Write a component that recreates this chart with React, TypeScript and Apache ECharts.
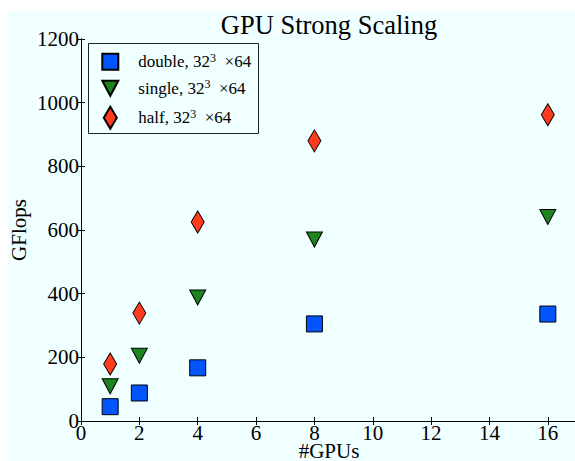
import { useEffect, useRef } from "react";
import * as echarts from "echarts";

const gpus = [1, 2, 4, 8, 16];
const doubleGflops = [45, 88, 167, 305, 336];
const singleGflops = [109, 205, 388, 570, 641];
const halfGflops = [179, 339, 625, 880, 962];
const seriesNames = ["double", "single", "half"];
const titleText = "GPU Strong Scaling";
const xName = "#GPUs";
const yName = "GFlops";

const FONT = "Liberation Serif";
const BG = "#f0ffff";

function legendFor(name: string, icon: string | null, w: number, h: number, left: number, top: number, pad: number) {
  return {
    data: [icon ? { name, icon } : name],
    left,
    top,
    padding: 0,
    itemWidth: w,
    itemHeight: h,
    selectedMode: false,
    formatter: (n: string) => `${n}, 32{sup|3}  ×64`,
    textStyle: {
      fontFamily: FONT,
      fontSize: 17,
      color: "#000",
      lineHeight: 20,
      padding: [0, 0, 0, pad],
      rich: {
        sup: { fontFamily: FONT, fontSize: 12, lineHeight: 6, verticalAlign: "top", color: "#000" },
      },
    },
  };
}

export default function App() {
  const ref = useRef<HTMLDivElement>(null);
  useEffect(() => {
    const chart = echarts.init(ref.current!, null, { renderer: "svg" });
    const axisCommon = {
      axisLine: { show: true, lineStyle: { color: "#000", width: 1 } },
      axisTick: { show: true, inside: true, length: 4, lineStyle: { color: "#000" } },
      splitLine: { show: false },
    };
    const option: any = {
      animation: false,
      backgroundColor: BG,
      title: {
        text: titleText,
        left: 321,
        top: 2,
        padding: 0,
        textAlign: "center",
        textStyle: { fontFamily: FONT, fontSize: 26.5, lineHeight: 24, fontWeight: "normal", color: "#000" },
      },
      grid: { left: 73, top: 28, width: 496, height: 382, containLabel: false, outerBoundsMode: "none" },
      xAxis: [
        {
          type: "value",
          min: 0,
          max: 17,
          interval: 2,
          position: "bottom",
          name: xName,
          nameLocation: "middle",
          nameGap: 21.5,
          nameMoveOverlap: false,
          nameTextStyle: { fontFamily: FONT, fontSize: 21, lineHeight: 16, color: "#000" },
          axisLabel: {
            fontFamily: FONT,
            fontSize: 21,
            lineHeight: 16,
            color: "#000",
            margin: 3.5,
            showMaxLabel: false,
            formatter: (v: number) => String(v),
          },
          ...axisCommon,
        },
        {
          type: "value",
          min: 0,
          max: 17,
          interval: 2,
          position: "top",
          axisLabel: { show: false },
          ...axisCommon,
        },
      ],
      yAxis: [
        {
          type: "value",
          min: 0,
          max: 1200,
          interval: 200,
          position: "left",
          name: yName,
          nameLocation: "middle",
          nameGap: 52,
          nameMoveOverlap: false,
          nameTextStyle: { fontFamily: FONT, fontSize: 21, color: "#000" },
          axisLabel: {
            fontFamily: FONT,
            fontSize: 21,
            lineHeight: 16,
            color: "#000",
            margin: 2,
            formatter: (v: number) => String(v),
          },
          ...axisCommon,
        },
        {
          type: "value",
          min: 0,
          max: 1200,
          interval: 200,
          position: "right",
          axisLabel: { show: false },
          ...axisCommon,
        },
      ],
      legend: [
        legendFor(seriesNames[0], null, 16, 16, 93.3, 40.7, 15),
        legendFor(seriesNames[1], "path://M0,0L16,0L8,15Z", 16, 15, 93.3, 67.3, 15),
        legendFor(seriesNames[2], null, 13, 22, 94.8, 94.7, 16.5),
      ],
      graphic: [
        {
          type: "rect",
          z: 3,
          shape: { x: 80.5, y: 32.5, width: 170, height: 90 },
          style: { fill: BG, stroke: "#222", lineWidth: 1 },
        },
      ],
      series: [
        {
          type: "scatter",
          name: seriesNames[0],
          data: gpus.map((g, i) => [g, doubleGflops[i]]),
          symbol: "rect",
          symbolSize: 16,
          itemStyle: { color: "#0055ff", borderColor: "#000", borderWidth: 1, opacity: 1 },
        },
        {
          type: "scatter",
          name: seriesNames[1],
          data: gpus.map((g, i) => [g, singleGflops[i]]),
          symbol: "triangle",
          symbolRotate: 180,
          symbolSize: [16, 15],
          itemStyle: { color: "#1e841e", borderColor: "#000", borderWidth: 1, opacity: 1 },
        },
        {
          type: "scatter",
          name: seriesNames[2],
          data: gpus.map((g, i) => [g, halfGflops[i]]),
          symbol: "diamond",
          symbolSize: [13, 22],
          itemStyle: { color: "#ff3c1e", borderColor: "#000", borderWidth: 1, opacity: 1 },
        },
      ],
    };
    chart.setOption(option);
    return () => chart.dispose();
  }, []);
  return (
    <div
      ref={ref}
      style={{ position: "absolute", left: 8, top: 11, width: 567, height: 450, background: BG }}
    />
  );
}
